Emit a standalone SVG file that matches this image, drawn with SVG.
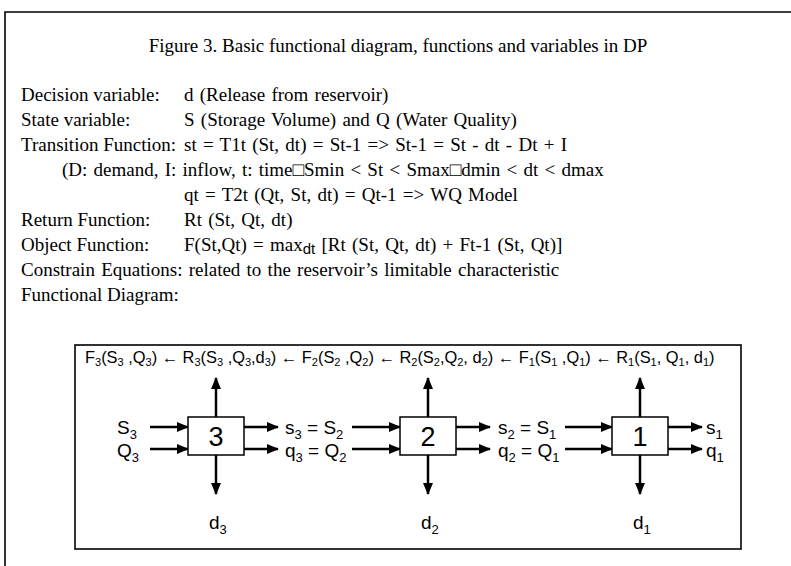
<svg xmlns="http://www.w3.org/2000/svg" width="791" height="566" viewBox="0 0 791 566">
<defs>
<marker id="ah" markerWidth="12" markerHeight="10" refX="11" refY="5" orient="auto" markerUnits="userSpaceOnUse">
<path d="M0,0 L12,5 L0,10 Z" fill="#000"/>
</marker>
</defs>
<style>
.t{font-family:"Liberation Serif","Times New Roman",serif;font-size:19px;fill:#000}
.v{word-spacing:1.5px}
.title{font-family:"Liberation Serif","Times New Roman",serif;font-size:19px;fill:#000}
.s{font-family:"Liberation Sans",Arial,sans-serif;fill:#000}
.top{font-size:16.4px}
.lab{font-size:19px}
.num{font-size:27px}
.box{fill:#fff;stroke:#000;stroke-width:1.5}
.ar{stroke:#000;stroke-width:2.5;fill:none;marker-end:url(#ah)}
.frame{fill:none;stroke:#000;stroke-width:1.6}
</style>
<rect width="791" height="566" fill="#fff"/>
<path class="frame" d="M791,12 L5,12 L5,566"/>
<text class="title" x="398" y="52" text-anchor="middle">Figure 3. Basic functional diagram, functions and variables in DP</text>
<g id="texts">
<text class="t" x="21" y="101">Decision variable:</text>
<text class="t v" x="184" y="101">d (Release from reservoir)</text>
<text class="t" x="21" y="126">State variable:</text>
<text class="t v" x="184" y="126">S (Storage Volume) and Q (Water Quality)</text>
<text class="t" x="21" y="151">Transition Function:</text>
<text class="t v" x="184" y="151">st = T1t (St, dt) = St-1 =&gt; St-1 = St - dt - Dt + I</text>
<text class="t v" x="62" y="176">(D: demand, I: inflow, t: time□Smin &lt; St &lt; Smax□dmin &lt; dt &lt; dmax</text>
<text class="t v" x="184" y="201">qt = T2t (Qt, St, dt) = Qt-1 =&gt; WQ Model</text>
<text class="t" x="21" y="226">Return Function:</text>
<text class="t v" x="184" y="226">Rt (St, Qt, dt)</text>
<text class="t" x="21" y="251">Object Function:</text>
<text class="t v" x="184" y="251">F(St,Qt) = max<tspan class="s" font-size="15" dy="3">dt</tspan><tspan dy="-3"> [Rt (St, Qt, dt) + Ft-1 (St, Qt)]</tspan></text>
<text class="t v" x="21" y="276">Constrain Equations:  related to the reservoir’s limitable characteristic</text>
<text class="t" x="21" y="301">Functional Diagram:</text>
</g>
<rect class="frame" x="75" y="345" width="666" height="204"/>
<text class="s top" x="85" y="363">F<tspan font-size="11" dy="3">3</tspan><tspan dy="-3">(S</tspan><tspan font-size="11" dy="3">3</tspan><tspan dy="-3"> ,Q</tspan><tspan font-size="11" dy="3">3</tspan><tspan dy="-3">) ← R</tspan><tspan font-size="11" dy="3">3</tspan><tspan dy="-3">(S</tspan><tspan font-size="11" dy="3">3</tspan><tspan dy="-3"> ,Q</tspan><tspan font-size="11" dy="3">3</tspan><tspan dy="-3">,d</tspan><tspan font-size="11" dy="3">3</tspan><tspan dy="-3">) ← F</tspan><tspan font-size="11" dy="3">2</tspan><tspan dy="-3">(S</tspan><tspan font-size="11" dy="3">2</tspan><tspan dy="-3"> ,Q</tspan><tspan font-size="11" dy="3">2</tspan><tspan dy="-3">) ← R</tspan><tspan font-size="11" dy="3">2</tspan><tspan dy="-3">(S</tspan><tspan font-size="11" dy="3">2</tspan><tspan dy="-3">,Q</tspan><tspan font-size="11" dy="3">2</tspan><tspan dy="-3">, d</tspan><tspan font-size="11" dy="3">2</tspan><tspan dy="-3">) ← F</tspan><tspan font-size="11" dy="3">1</tspan><tspan dy="-3">(S</tspan><tspan font-size="11" dy="3">1</tspan><tspan dy="-3"> ,Q</tspan><tspan font-size="11" dy="3">1</tspan><tspan dy="-3">) ← R</tspan><tspan font-size="11" dy="3">1</tspan><tspan dy="-3">(S</tspan><tspan font-size="11" dy="3">1</tspan><tspan dy="-3">, Q</tspan><tspan font-size="11" dy="3">1</tspan><tspan dy="-3">, d</tspan><tspan font-size="11" dy="3">1</tspan><tspan dy="-3">)</tspan></text>
<g id="connectors">
<path class="ar" d="M216,417 V378"/>
<path class="ar" d="M216,455 V494"/>
<path class="ar" d="M428,417 V378"/>
<path class="ar" d="M428,455 V494"/>
<path class="ar" d="M640,417 V378"/>
<path class="ar" d="M640,455 V494"/>
<path class="ar" d="M150,427 H188"/>
<path class="ar" d="M150,449 H188"/>
<path class="ar" d="M244,427 H278"/>
<path class="ar" d="M244,449 H278"/>
<path class="ar" d="M352,427 H400"/>
<path class="ar" d="M352,449 H400"/>
<path class="ar" d="M456,427 H490"/>
<path class="ar" d="M456,449 H490"/>
<path class="ar" d="M565,427 H612"/>
<path class="ar" d="M565,449 H612"/>
<path class="ar" d="M668,427 H702"/>
<path class="ar" d="M668,449 H702"/>
</g>
<g id="node3">
<rect class="box" x="188" y="417" width="56" height="38"/>
<text class="s num" x="216" y="446" text-anchor="middle">3</text>
</g>
<g id="node2">
<rect class="box" x="400" y="417" width="56" height="38"/>
<text class="s num" x="428" y="446" text-anchor="middle">2</text>
</g>
<g id="node1">
<rect class="box" x="612" y="417" width="56" height="38"/>
<text class="s num" x="640" y="446" text-anchor="middle">1</text>
</g>
<g id="labels">
<text class="s lab" x="117" y="434">S<tspan font-size="13" dy="5">3</tspan></text>
<text class="s lab" x="117" y="457">Q<tspan font-size="13" dy="5">3</tspan></text>
<text class="s lab" x="285" y="434">s<tspan font-size="13" dy="5">3</tspan><tspan dy="-5"> = S</tspan><tspan font-size="13" dy="5">2</tspan></text>
<text class="s lab" x="285" y="457">q<tspan font-size="13" dy="5">3</tspan><tspan dy="-5"> = Q</tspan><tspan font-size="13" dy="5">2</tspan></text>
<text class="s lab" x="498" y="434">s<tspan font-size="13" dy="5">2</tspan><tspan dy="-5"> = S</tspan><tspan font-size="13" dy="5">1</tspan></text>
<text class="s lab" x="498" y="457">q<tspan font-size="13" dy="5">2</tspan><tspan dy="-5"> = Q</tspan><tspan font-size="13" dy="5">1</tspan></text>
<text class="s lab" x="706" y="434">s<tspan font-size="13" dy="5">1</tspan></text>
<text class="s lab" x="706" y="457">q<tspan font-size="13" dy="5">1</tspan></text>
<text class="s lab" x="209" y="529">d<tspan font-size="13" dy="5">3</tspan></text>
<text class="s lab" x="421" y="529">d<tspan font-size="13" dy="5">2</tspan></text>
<text class="s lab" x="633" y="529">d<tspan font-size="13" dy="5">1</tspan></text>
</g>
</svg>
